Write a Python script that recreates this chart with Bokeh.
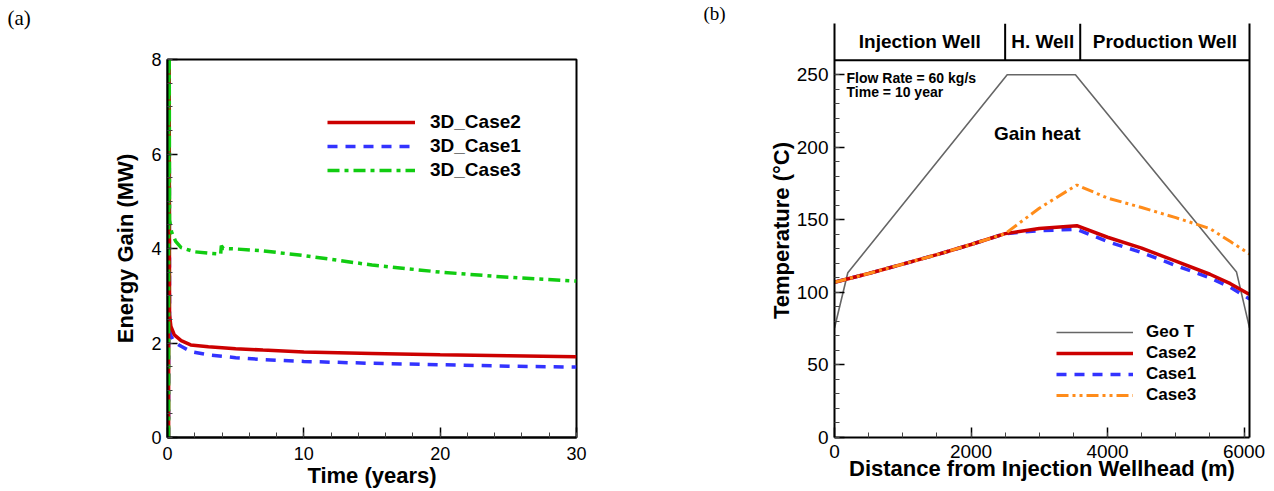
from bokeh.plotting import figure
from bokeh.layouts import row, column
from bokeh.models import (Range1d, FixedTicker, LinearAxis, Legend, LegendItem,
                          Label, Span)
from bokeh.embed import file_html
from bokeh.resources import INLINE

# ---------------- panel (a) data ----------------
time_case2 = [0.08, 0.1, 0.15, 0.25, 0.5, 1, 1.7, 3, 5, 7, 10, 15, 20, 25, 30]
gain_case2 = [0, 12, 2.6, 2.35, 2.17, 2.05, 1.96, 1.92, 1.88, 1.85, 1.81, 1.78, 1.75, 1.73, 1.71]
time_case1 = [0.08, 0.1, 0.15, 0.25, 0.5, 1, 1.7, 3, 5, 7, 10, 15, 20, 25, 30]
gain_case1 = [0, 12, 2.4, 2.15, 2.02, 1.93, 1.82, 1.75, 1.69, 1.65, 1.61, 1.57, 1.54, 1.51, 1.49]
time_case3 = [0.08, 0.1, 0.15, 0.3, 0.6, 1, 2, 3, 3.9, 3.95, 4.1, 5, 7, 10, 15, 20, 25, 30]
gain_case3 = [0, 12, 4.6, 4.35, 4.15, 4.02, 3.93, 3.9, 3.88, 4.06, 4.0, 3.99, 3.95, 3.85, 3.65, 3.5, 3.39, 3.31]
labels_a = ["3D_Case2", "3D_Case1", "3D_Case3"]
xticks_a = [0, 10, 20, 30]
yticks_a = [0, 2, 4, 6, 8]

# ---------------- panel (b) data ----------------
dist_geo = [0, 195, 2530, 3530, 5890, 6080]
temp_geo = [75.5, 113.5, 250, 250, 114, 75.5]
dist_case = [0, 500, 1000, 1500, 2000, 2500, 3000, 3550, 4000, 4500, 5000, 5500, 5800, 6080]
temp_case2 = [107, 113, 119.5, 126, 133, 140.5, 144, 146, 138, 130.5, 121.5, 112.5, 106, 98.5]
temp_case1 = [107, 113, 119.5, 126, 133, 140.5, 142.5, 143.5, 135, 127.5, 118.5, 110, 103.5, 95.5]
temp_case3 = [107, 113, 119.5, 126, 133, 140.5, 158, 174, 165, 158.5, 151.5, 144, 135, 126.5]
labels_b = ["Geo T", "Case2", "Case1", "Case3"]
well_names = ["Injection Well", "H. Well", "Production Well"]
well_bounds = [0, 2500, 3600, 6080]
xticks_b = [0, 2000, 4000, 6000]
yticks_b = [0, 50, 100, 150, 200, 250]

FONT = "Liberation Sans"


def style_axis(ax, tick_size, label_size):
    ax.axis_line_width = 2
    ax.axis_line_color = "black"
    ax.major_tick_in = 10
    ax.major_tick_out = 0
    ax.minor_tick_in = 5
    ax.minor_tick_out = 0
    ax.major_tick_line_width = 1.5
    ax.major_tick_line_color = "black"
    ax.minor_tick_line_width = 1
    ax.minor_tick_line_color = "#444444"
    ax.major_label_text_font = FONT
    ax.major_label_text_font_size = tick_size
    ax.major_label_text_color = "black"
    ax.axis_label_text_font = FONT
    ax.axis_label_text_font_style = "bold"
    ax.axis_label_text_font_size = label_size
    ax.axis_label_text_color = "black"


def style_title(t, text, offset, standoff, size):
    t.text = text
    t.align = "left"
    t.offset = offset
    t.standoff = standoff
    t.text_font = "Liberation Serif"
    t.text_font_style = "normal"
    t.text_font_size = size
    t.text_color = "black"


def frange(a, b, s):
    out = []
    v = a
    while v <= b + 1e-9:
        out.append(round(v, 6))
        v += s
    return out


H = 490

# ================= panel (a) =================
p1 = figure(width=700, height=H, x_range=Range1d(0, 30), y_range=Range1d(0, 8),
            output_backend="svg", toolbar_location=None,
            min_border_left=167, min_border_right=124, min_border_top=59, min_border_bottom=H - 437)
p1.grid.visible = False
p1.outline_line_color = "black"
p1.outline_line_width = 2
p1.background_fill_color = "white"
style_title(p1.title, "(a)\n ", -160, 8, "21px")
p1.title.vertical_align = "top"

p1.xaxis.ticker = FixedTicker(ticks=xticks_a, minor_ticks=frange(0, 30, 2))
p1.yaxis.ticker = FixedTicker(ticks=yticks_a, minor_ticks=frange(0, 8, 0.5))
p1.xaxis.axis_label = "Time (years)"
p1.yaxis.axis_label = "Energy Gain (MW)"
style_axis(p1.xaxis[0], "18px", "22px")
style_axis(p1.yaxis[0], "18px", "22px")
p1.xaxis.major_label_standoff = 9
p1.xaxis.axis_label_standoff = 0
p1.yaxis.major_label_standoff = 6
p1.yaxis.axis_label_standoff = 10

rb1 = p1.line(time_case1, gain_case1, line_color="#3333ff", line_width=3.5, line_dash="10 8")
rr1 = p1.line(time_case2, gain_case2, line_color="#cc0000", line_width=3.5)
rg1 = p1.line(time_case3, gain_case3, line_color="#11cc11", line_width=3.5, line_dash="12 5 4 5")

leg1 = Legend(items=[LegendItem(label=labels_a[0], renderers=[rr1]),
                     LegendItem(label=labels_a[1], renderers=[rb1]),
                     LegendItem(label=labels_a[2], renderers=[rg1])],
              location=(160, 256), padding=0, margin=0, spacing=2,
              glyph_width=88, glyph_height=20, label_height=20, label_standoff=15,
              label_text_font=FONT, label_text_font_style="bold", label_text_font_size="19px",
              label_text_color="black", border_line_color=None, background_fill_alpha=0)
p1.add_layout(leg1)

# ================= panel (b) =================
y_top = 285.3
p2 = figure(width=572, height=H, x_range=Range1d(0, well_bounds[-1]), y_range=Range1d(0, y_top),
            output_backend="svg", toolbar_location=None,
            min_border_left=134, min_border_right=23, min_border_top=22, min_border_bottom=H - 437)
p2.grid.visible = False
p2.outline_line_color = None
p2.background_fill_color = "white"
style_title(p2.title, "(b)", -131, 0, "19px")

p2.xaxis.ticker = FixedTicker(ticks=xticks_b, minor_ticks=frange(0, 6000, 500))
p2.yaxis.ticker = FixedTicker(ticks=yticks_b, minor_ticks=frange(0, 250, 10))
p2.xaxis.axis_label = "Distance from Injection Wellhead (m)"
p2.yaxis.axis_label = "Temperature (°C)"
style_axis(p2.xaxis[0], "19px", "22px")
style_axis(p2.yaxis[0], "19px", "22px")
p2.xaxis.major_label_standoff = 7
p2.xaxis.axis_label_standoff = -5
p2.yaxis.major_label_standoff = 6
p2.yaxis.axis_label_standoff = 0

rax = LinearAxis(ticker=FixedTicker(ticks=[]), major_label_text_font_size="0px",
                 axis_line_width=2, axis_line_color="black")
p2.add_layout(rax, "right")

# header band
p2.add_layout(Span(location=260, dimension="width", line_color="black", line_width=2))
inner = well_bounds[1:-1]
p2.segment(x0=inner, y0=[260] * len(inner), x1=inner, y1=[y_top] * len(inner),
           line_color="black", line_width=2)
for i, name in enumerate(well_names):
    p2.add_layout(Label(x=(well_bounds[i] + well_bounds[i + 1]) / 2, y=(260 + y_top) / 2,
                        text=name, text_align="center", text_baseline="middle",
                        text_font=FONT, text_font_style="bold", text_font_size="19px",
                        text_color="black"))

rgeo = p2.line(dist_geo, temp_geo, line_color="#666666", line_width=1.6)
rb2 = p2.line(dist_case, temp_case1, line_color="#3333ff", line_width=3.5, line_dash="10 8")
rr2 = p2.line(dist_case, temp_case2, line_color="#cc0000", line_width=3.5)
ro2 = p2.line(dist_case, temp_case3, line_color="#ff8c1a", line_width=3, line_dash="12 4 3 4 3 4")

p2.add_layout(Label(x=176, y=247.7, text="Flow Rate = 60 kg/s", text_baseline="middle",
                    text_font=FONT, text_font_style="bold", text_font_size="14px", text_color="black"))
p2.add_layout(Label(x=176, y=238, text="Time = 10 year", text_baseline="middle",
                    text_font=FONT, text_font_style="bold", text_font_size="14px", text_color="black"))
p2.add_layout(Label(x=2970, y=209.4, text="Gain heat", text_align="center", text_baseline="middle",
                    text_font=FONT, text_font_style="bold", text_font_size="19px", text_color="black"))

leg2 = Legend(items=[LegendItem(label=labels_b[0], renderers=[rgeo]),
                     LegendItem(label=labels_b[1], renderers=[rr2]),
                     LegendItem(label=labels_b[2], renderers=[rb2]),
                     LegendItem(label=labels_b[3], renderers=[ro2])],
              location=(222, 32), padding=0, margin=0, spacing=1,
              glyph_width=77, glyph_height=18, label_height=18, label_standoff=13,
              label_text_font=FONT, label_text_font_style="bold", label_text_font_size="17px",
              label_text_color="black", border_line_color=None, background_fill_alpha=0)
p2.add_layout(leg2)

layout = row(column(p1), column(p2))
open("out.html", "w").write(file_html(layout, INLINE))
